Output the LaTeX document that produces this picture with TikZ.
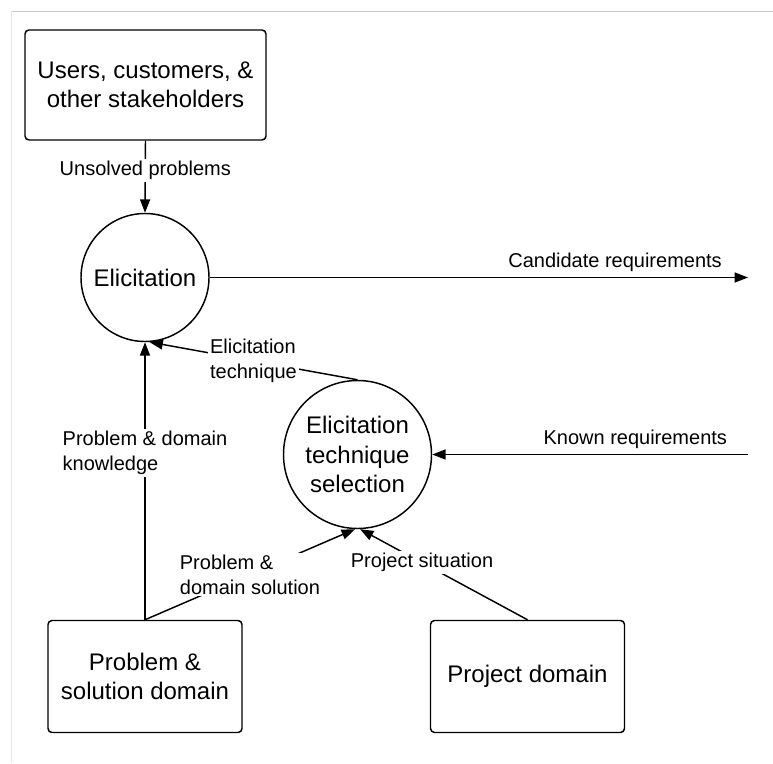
\documentclass[tikz,border=0pt]{standalone}
\usepackage{fontspec}
\setmainfont{Liberation Sans}
\usetikzlibrary{arrows.meta}
\definecolor{frametop}{RGB}{200,200,200}
\definecolor{frameleft}{RGB}{228,228,228}
\begin{document}
\begin{tikzpicture}[x=0.75pt,y=-0.75pt,
  line width=1.1pt,
  big/.style={font=\fontsize{18pt}{22pt}\selectfont, align=center},
  boxnode/.style={draw, rounded corners=3pt, big, minimum width=145.5pt, minimum height=84pt, inner sep=0pt},
  proc/.style={draw, circle, big, inner sep=0pt},
  lbl/.style={font=\fontsize{15pt}{18.75pt}\selectfont, fill=white, inner sep=1.5pt},
  flow/.style={-{Triangle[length=10pt,width=7.5pt]}},
  frameline/.style={line width=0.75pt}
]
\useasboundingbox (0,0) rectangle (773,763);
\draw[frameline, frametop] (11,11.5) -- (773,11.5);
\draw[frameline, frameleft] (11,11.5) -- (11,763);

\node[boxnode, minimum width=180.75pt, minimum height=82.5pt] (users) at (145.5,85) {Users, customers, \&\\other stakeholders};
\node[proc, minimum size=96pt] (elic) at (145,277.5) {Elicitation};
\node[proc, minimum size=111pt] (sel) at (357.5,454.5) {Elicitation\\technique\\selection};
\node[boxnode] (psd) at (145,676.5) {Problem \&\\solution domain};
\node[boxnode] (pd) at (527.5,676.5) {Project domain};
\coordinate (candend) at (748,277.5);
\coordinate (knownstart) at (748,454.5);

\draw[flow] (users.south) -- node[lbl, pos=0.41]{Unsolved problems} (elic.north);
\draw[flow] (elic.east) -- node[lbl, fill=none, above=2pt, pos=0.753]{Candidate requirements} (candend);
\draw[flow] (knownstart) -- node[lbl, fill=none, above=2pt, pos=0.357]{Known requirements} (sel.east);
\draw[flow] (psd.north) -- node[lbl, align=left, pos=0.6]{Problem \& domain\\knowledge} (elic.south);
\draw[flow] (psd.north) -- node[lbl, align=left, pos=0.5]{Problem \&\\domain solution} (sel.268);
\draw[flow] (pd.north) -- node[lbl, pos=0.63]{Project situation} (sel.272);
\draw[flow] (sel.north) -- node[lbl, align=left, pos=0.5]{Elicitation\\technique} (elic.274);
\end{tikzpicture}
\end{document}
